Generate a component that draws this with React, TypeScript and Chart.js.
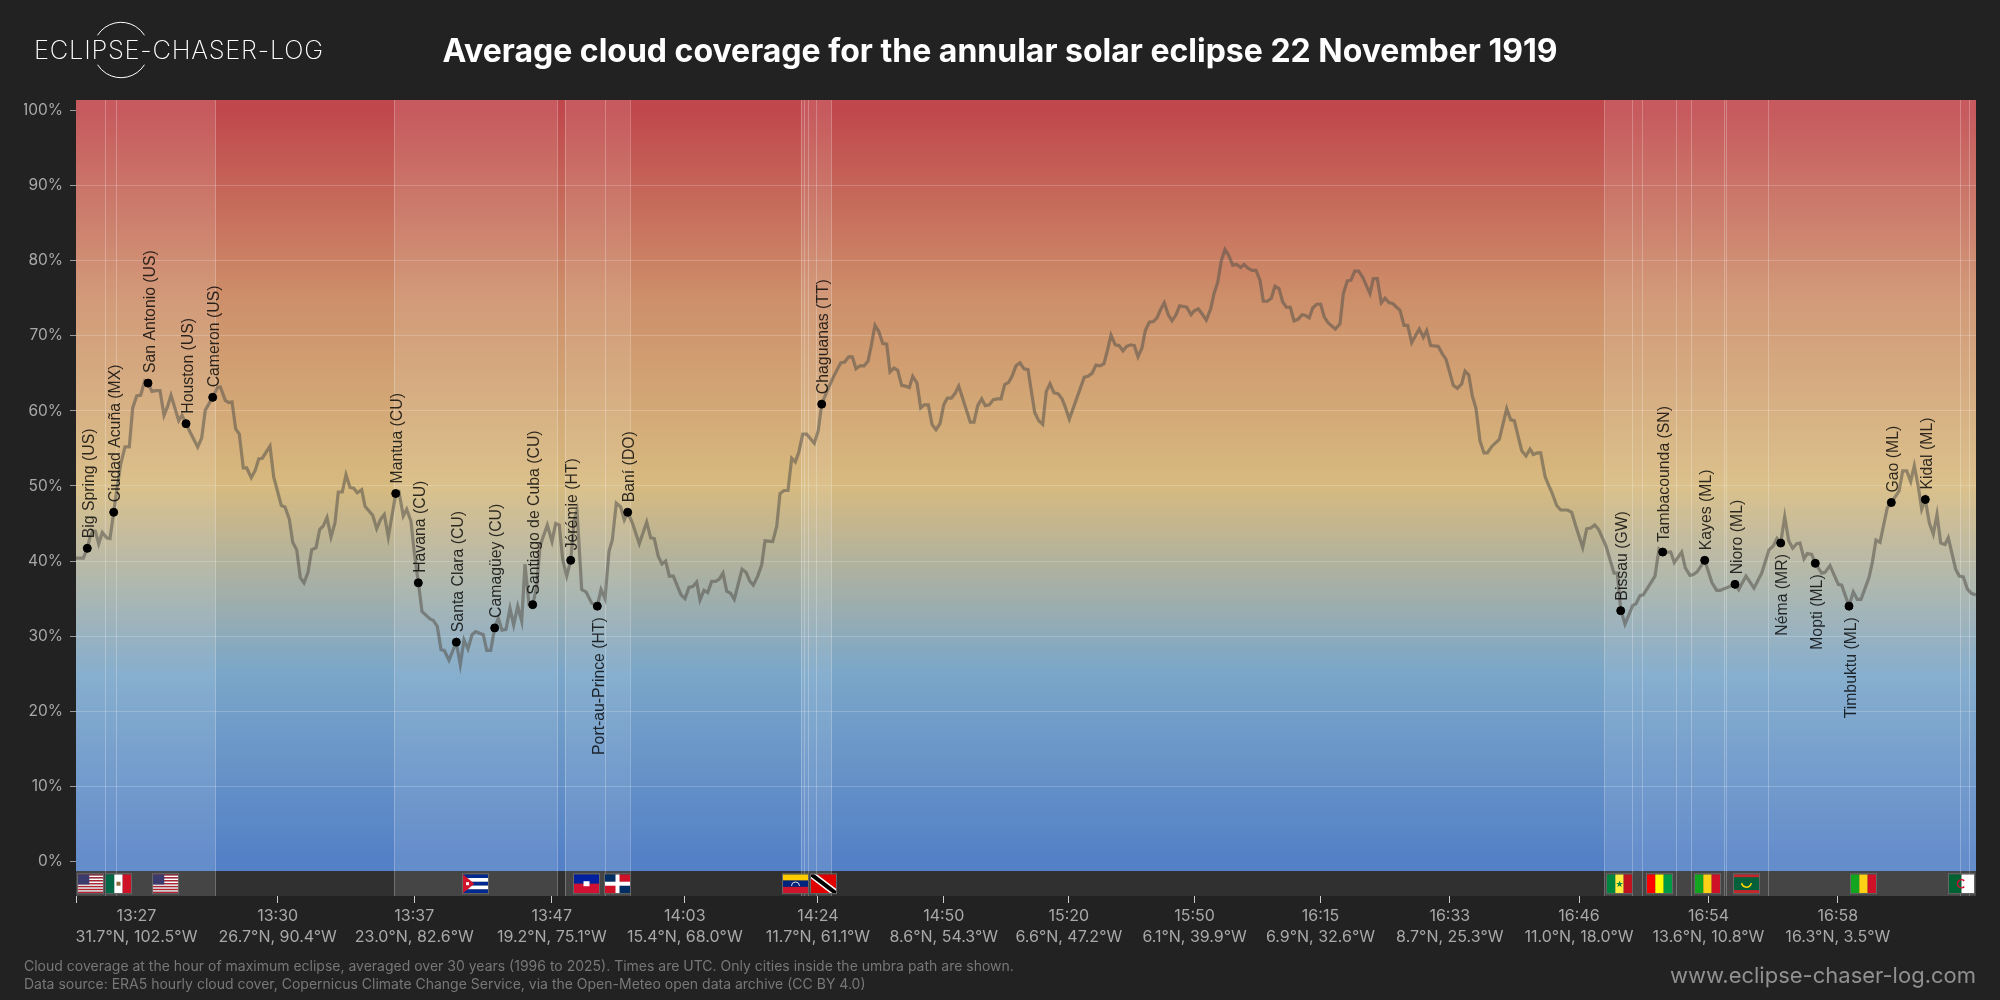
import React, { useEffect, useRef } from 'react';
import { Chart, registerables } from 'chart.js';

Chart.register(...registerables);

// position along the eclipse track (axis units) and cloud cover in %
const trackPos = [
  0, 7.3, 11.3, 14, 16.7, 19.3, 22.7, 26.3, 30.7, 34, 37.7, 40.7, 44.7, 49, 53.3, 56.7, 60.7, 64.7, 68.7, 72,
  76, 79.3, 84, 88, 91.3, 95, 102.7, 106, 110, 114, 121.7, 125.7, 129.3, 136.7, 141.3, 144.3, 149.3, 152.7, 156, 159.7,
  163.3, 167.3, 170.7, 175.3, 179.3, 182.7, 186.3, 194, 197.7, 205.3, 209, 213.3, 216.7, 220.7, 224.3, 228, 232, 235.7, 240, 243.7,
  247.3, 251, 255, 259, 262.3, 266.3, 270, 274, 277.7, 281.3, 285.7, 289, 296.7, 300.7, 304.7, 308.3, 312.3, 319.7,
  323, 327.3, 330.7, 335, 338.3, 342.3, 346, 354, 357.3, 361.3, 365, 368.3, 373, 380.3, 384.3, 388, 392, 396, 399.7, 407.3,
  410.7, 414.7, 418.7, 422.3, 426, 430, 434, 437.7, 441.7, 445.7, 449, 453, 456.7, 460.7, 464, 471.3, 476, 479.7, 483.3, 486.7,
  490.7, 494.7, 498.3, 501, 505.7, 510, 515.7, 521.3, 525, 529, 533, 536.3, 540.3, 544.7, 548.3, 551.7, 556.3, 563.3, 570.7, 574.7,
  578.3, 582.3, 586, 589.7, 593.3, 597.3, 605, 609, 613, 616.7, 620.7, 624, 628, 631.7, 635.7, 639.7, 643.3, 647, 650.7, 654.7,
  658.3, 666, 670, 674, 677.3, 681.7, 685.7, 689, 696.7, 700.7, 704, 708, 712, 715.7, 719.3, 723, 726.7, 730.7, 738.3, 742.3,
  745.7, 750, 757.3, 764.7, 768.7, 772.7, 776.3, 780, 784, 788, 792, 795, 799, 802.7, 806.7, 810.7, 814, 818, 821.7, 825.7,
  829.3, 833.3, 836.7, 841, 844.7, 848.3, 852.3, 856, 860, 864, 867.7, 871.3, 875.3, 879, 882.7, 894.3, 898, 901.7, 905.7, 909.3,
  913.3, 917.3, 921.3, 925, 928.7, 932.7, 936, 940, 944, 948, 952, 958.7, 962.7, 966.7, 970.3, 974, 978, 982, 986, 989.3,
  993.3, 1008.3, 1012, 1016, 1020, 1024, 1028, 1031.3, 1035, 1039.3, 1043, 1047, 1050.7, 1054.7, 1058.3, 1062, 1066, 1069.3, 1073.3, 1077.3,
  1081, 1085, 1088.3, 1092.3, 1096, 1100, 1103.7, 1110.7, 1115, 1118, 1122.3, 1126.7, 1130.3, 1134.7, 1138, 1141.7, 1145.3, 1149, 1152.7, 1156.7,
  1160.7, 1164.7, 1168, 1172, 1176, 1180, 1184, 1187.3, 1191.3, 1195.3, 1199, 1203, 1206.7, 1210.3, 1214.3, 1218, 1222, 1226, 1229.7, 1233.3,
  1236.7, 1240.7, 1244.7, 1248.3, 1252.3, 1259.3, 1264, 1267.3, 1271.3, 1275, 1278.7, 1282.7, 1286.7, 1294, 1297.3, 1301.3, 1305.3, 1309, 1313.3, 1316.7,
  1324, 1328, 1331.7, 1335.7, 1343.3, 1347.3, 1350.7, 1354.7, 1362.3, 1366.3, 1370, 1377.3, 1381.3, 1385.7, 1389, 1392.7, 1396.3, 1400, 1404, 1408,
  1411.3, 1416, 1423.3, 1430.7, 1434.7, 1438.3, 1445.7, 1450, 1454, 1457.3, 1461.3, 1464.7, 1469, 1472.3, 1476, 1480.7, 1484.7, 1491.7, 1495.7, 1499.7,
  1506.7, 1510.7, 1514.7, 1518.7, 1522.7, 1530, 1538, 1541.3, 1544.7, 1549, 1556.7, 1560, 1564, 1567.3, 1579, 1583, 1586.7, 1594.7, 1598.3, 1605.7,
  1609.3, 1614, 1617.3, 1621.3, 1628.7, 1636, 1640.7, 1644, 1659, 1662.7, 1670, 1678, 1685.7, 1693, 1697.3, 1701, 1704.7, 1708.7, 1712.7, 1716.7,
  1720.7, 1724, 1728, 1731.3, 1735.7, 1739.3, 1745.7, 1749, 1754, 1762.3, 1765.7, 1773, 1777.3, 1781.3, 1785, 1793, 1796.3, 1800, 1804, 1811.3,
  1815.3, 1823, 1826.7, 1830.7, 1834.7, 1838.3, 1842.3, 1845.7, 1849.3, 1853.3, 1857.3, 1861, 1864.7, 1869, 1872.3, 1879.7, 1883.3, 1887.3, 1891.3, 1895.3,
  1900,
];
const cloudCover = [
  40.4, 40.4, 41.7, 43.2, 44, 44, 42.3, 43.8, 43.1, 43, 46.5, 49.4, 52.9, 55.2, 55.2, 60.4, 62, 62.1, 64, 63.7,
  62.6, 62.7, 62.7, 59.4, 60.5, 62.1, 58.7, 59.4, 58.3, 57.2, 55.2, 56.4, 60.1, 61.8, 63.1, 63.2, 61.4, 61.1, 61.2, 57.6,
  56.9, 52.4, 52.4, 51.1, 52.1, 53.6, 53.7, 55.3, 51.2, 47.4, 47.2, 45.6, 42.5, 41.5, 37.8, 37.1, 38.5, 41.5, 41.8, 44.2,
  44.7, 45.8, 43.2, 45.1, 49.2, 49.2, 51.5, 49.8, 49.7, 49.1, 49.5, 47.3, 46.1, 44.3, 45.6, 46.2, 43.2, 48.9,
  49.2, 46, 46.9, 45.3, 41.1, 37.2, 33.3, 32.3, 32.1, 31.3, 28.2, 28.1, 26.8, 29.2, 26.2, 29.5, 28.3, 30.2, 30.6, 30.2,
  28.1, 28.1, 31.1, 32.4, 30.8, 30.9, 33.7, 31.5, 34, 32, 39.6, 34.2, 34.2, 36.6, 42, 44.8, 42.6, 45, 44.8, 40.2,
  38, 40.1, 45.5, 46.7, 36.2, 35.9, 34.4, 34, 36.2, 35, 41.3, 42.8, 47.7, 47.2, 45.5, 46.5, 45.1, 42.3, 45.2, 43.1,
  43, 40.6, 39.6, 40, 38, 38, 35.5, 35, 36.5, 36.6, 37.2, 34.8, 36.1, 35.8, 37.3, 37.3, 37.6, 38.4, 36, 35.7,
  34.9, 38.9, 38.5, 37.3, 36.8, 38, 39.5, 42.7, 42.6, 44.6, 49, 49.4, 49.4, 53.7, 53.2, 54.6, 56.9, 56.9, 55.7, 57.4,
  60.9, 62.3, 64.5, 66.4, 66.5, 67.2, 67.2, 65.6, 66, 66, 66.6, 68.5, 71.4, 70.6, 69, 68.9, 65.2, 65.7, 65.4, 63.4,
  63.3, 63.1, 64.6, 63.7, 60.4, 60.8, 60.8, 58.2, 57.5, 58.3, 60.8, 61.7, 61.7, 62.3, 63.3, 58.5, 58.5, 60.7, 61.6, 60.7,
  60.8, 61.5, 61.6, 61.6, 63.5, 63.8, 64.6, 66, 66.4, 65.6, 65.5, 59.8, 58.7, 58.2, 62.6, 63.6, 62.4, 62.3, 61.6, 60.5,
  58.9, 64.5, 64.6, 65, 66.1, 66, 66.3, 68, 70.1, 68.8, 68.7, 68, 68.6, 68.8, 68.7, 67.2, 68.4, 70.7, 71.8, 71.9,
  72.4, 73.6, 74.4, 72.8, 72, 72.8, 74, 73.8, 72.8, 73.3, 73.6, 72.8, 72.1, 73.6, 75.6, 77.1, 80, 81.5, 80.7, 79.4,
  79.5, 79.1, 79.5, 79, 78.7, 78.7, 77.4, 74.6, 74.6, 75, 76.6, 76.3, 74.5, 73.8, 73.8, 72, 72.2, 72.8, 72.7, 72.4,
  73.7, 74.2, 74.2, 72.5, 71.7, 70.9, 71.6, 75.6, 77.3, 77.4, 78.6, 78.6, 77.8, 75.6, 77.6, 77.6, 74.4, 75, 74.4, 74.3,
  73.4, 71.4, 71.4, 69.1, 70.9, 69.8, 70.7, 68.7, 68.6, 67.6, 66.9, 63.4, 63, 63.6, 65.3, 64.8, 62, 60.3, 56, 54.4,
  54.4, 55.3, 56.2, 60.3, 58.8, 58.7, 54.7, 54, 54.9, 54.2, 54.4, 54.4, 51.3, 50.2, 49.1, 47.4, 46.8, 46.8, 46.5, 44.7,
  41.8, 44.3, 44.4, 44.8, 44.2, 42, 38.4, 38.4, 33.6, 31.6, 34.1, 34.3, 35.4, 35.5, 38, 41.6, 41.2, 41.2, 39.8, 41.2,
  39.1, 38.1, 38.2, 38.6, 40.1, 37.1, 36.1, 36.1, 36.9, 36.2, 38, 36.4, 38.4, 41.5, 42, 43, 42.4, 45.9, 42.7, 41.7,
  42.3, 42.4, 40.3, 41, 40.9, 39.7, 38.4, 38.5, 39.4, 36.9, 36.8, 34, 35.9, 34.9, 34.9, 37.8, 39.8, 42.8, 42.5, 47.1,
  47.8, 49.3, 52, 52, 50.6, 52.7, 49.9, 46.9, 48.2, 45.1, 43.6, 46.2, 42.4, 42.2, 43.1, 38.9, 38, 37.9, 36.3, 35.7,
  35.5,
];

const cityNames = [
  'Big Spring (US)', 'Ciudad Acuña (MX)', 'San Antonio (US)', 'Houston (US)', 'Cameron (US)', 'Mantua (CU)',
  'Havana (CU)', 'Santa Clara (CU)', 'Camagüey (CU)', 'Santiago de Cuba (CU)', 'Jérémie (HT)', 'Port-au-Prince (HT)',
  'Baní (DO)', 'Chaguanas (TT)', 'Bissau (GW)', 'Tambacounda (SN)', 'Kayes (ML)', 'Nioro (ML)', 'Néma (MR)',
  'Mopti (ML)', 'Timbuktu (ML)', 'Gao (ML)', 'Kidal (ML)',
];
const cityPos = [11.3, 37.7, 72, 110, 136.7, 319.7, 342.3, 380.3, 418.7, 456.7, 494.7, 521.3, 551.7, 745.7, 1544.7, 1586.7, 1628.7, 1659, 1704.7, 1739.3, 1773, 1815.3, 1849.3];
const cityCover = [41.7, 46.5, 63.7, 58.3, 61.8, 49, 37.1, 29.2, 31.1, 34.2, 40.1, 34, 46.5, 60.9, 33.4, 41.2, 40.1, 36.9, 42.4, 39.7, 34, 47.8, 48.2];
const cityBelow = ['Port-au-Prince (HT)', 'Néma (MR)', 'Mopti (ML)', 'Timbuktu (ML)'];

const timeTickPos = [0, 60.5, 201.7, 338.3, 475.8, 608.8, 741.9, 867.8, 992.8, 1118.6, 1244.5, 1373.8, 1503, 1632.5, 1761.8];
const timeLabels = ['', '13:27', '13:30', '13:37', '13:47', '14:03', '14:24', '14:50', '15:20', '15:50', '16:15', '16:33', '16:46', '16:54', '16:58'];
const coordLabels = [
  '', '31.7°N, 102.5°W', '26.7°N, 90.4°W', '23.0°N, 82.6°W', '19.2°N, 75.1°W', '15.4°N, 68.0°W', '11.7°N, 61.1°W',
  '8.6°N, 54.3°W', '6.6°N, 47.2°W', '6.1°N, 39.9°W', '6.9°N, 32.6°W', '8.7°N, 25.3°W', '11.0°N, 18.0°W', '13.6°N, 10.8°W', '16.3°N, 3.5°W',
];
const coverTicks = [0, 10, 20, 30, 40, 50, 60, 70, 80, 90, 100];

// stretches of the track that have cities, with the borders between them
const bandStart = [0, 318.2, 489, 725, 740.5, 1528.4, 1692.5];
const bandEnd = [139.6, 481.6, 554, 740.5, 755.5, 1692.5, 1900];
const bandLines = [29.4, 40.5, 139.2, 318.2, 481.6, 489, 529, 554, 725, 728.5, 732, 740.5, 755.5, 1528.4, 1556.3, 1566.2, 1600.3, 1615.2, 1648.5, 1650.4, 1692.5, 1884.3, 1893.5];

const flagCodes = ['us', 'mx', 'us', 'cu', 'ht', 'do', 've', 'tt', 'sn', 'gn', 'ml', 'mr', 'ml', 'dz'];
const flagPos = [14.4, 42, 89.4, 399.2, 509.5, 541, 719.3, 747.3, 1542.5, 1583.3, 1631.2, 1670.3, 1787.3, 1885.3];

const colourStops: [number, string][] = [
  [100, '#c0484c'],
  [75, '#cd8f6a'],
  [50, '#d7ba7f'],
  [25, '#7aa6c9'],
  [0, '#5380c6'],
];

const FONT = 'Inter, "Noto Sans", sans-serif';

function drawFlag(ctx: CanvasRenderingContext2D, code: string, x: number, y: number, w: number, h: number) {
  const vert = (cols: string[]) => cols.forEach((c, i) => {
    ctx.fillStyle = c;
    ctx.fillRect(x + (w * i) / cols.length, y, w / cols.length, h);
  });
  const horiz = (rows: string[]) => rows.forEach((c, i) => {
    ctx.fillStyle = c;
    ctx.fillRect(x, y + (h * i) / rows.length, w, h / rows.length);
  });
  ctx.save();
  ctx.beginPath();
  ctx.rect(x, y, w, h);
  ctx.clip();
  if (code === 'us') {
    horiz(['#b22234', '#fff', '#b22234', '#fff', '#b22234', '#fff', '#b22234', '#fff', '#b22234', '#fff', '#b22234', '#fff', '#b22234']);
    ctx.fillStyle = '#3c3b6e';
    ctx.fillRect(x, y, w * 0.45, h * 0.54);
  } else if (code === 'mx') {
    vert(['#006847', '#fff', '#ce1126']);
    ctx.fillStyle = '#8c6a3a';
    ctx.fillRect(x + w / 2 - 2, y + h / 2 - 2, 4, 4);
  } else if (code === 'cu') {
    horiz(['#002a8f', '#fff', '#002a8f', '#fff', '#002a8f']);
    ctx.fillStyle = '#cf142b';
    ctx.beginPath();
    ctx.moveTo(x, y);
    ctx.lineTo(x + w * 0.45, y + h / 2);
    ctx.lineTo(x, y + h);
    ctx.fill();
    ctx.fillStyle = '#fff';
    ctx.fillRect(x + 3, y + h / 2 - 1.5, 3, 3);
  } else if (code === 'ht') {
    horiz(['#00209f', '#d21034']);
    ctx.fillStyle = '#fff';
    ctx.fillRect(x + w / 2 - 3, y + h / 2 - 2.5, 6, 5);
  } else if (code === 'do') {
    ctx.fillStyle = '#002d62';
    ctx.fillRect(x, y, w, h);
    ctx.fillStyle = '#ce1126';
    ctx.fillRect(x + w / 2, y, w / 2, h / 2);
    ctx.fillRect(x, y + h / 2, w / 2, h / 2);
    ctx.fillStyle = '#fff';
    ctx.fillRect(x + w / 2 - 2, y, 4, h);
    ctx.fillRect(x, y + h / 2 - 2, w, 4);
  } else if (code === 've') {
    horiz(['#ffcc00', '#00247d', '#cf142b']);
    ctx.strokeStyle = '#ddd';
    ctx.beginPath();
    ctx.arc(x + w / 2, y + h * 0.62, 4, Math.PI, 0);
    ctx.stroke();
  } else if (code === 'tt') {
    ctx.fillStyle = '#e00000';
    ctx.fillRect(x, y, w, h);
    ctx.beginPath();
    ctx.moveTo(x, y);
    ctx.lineTo(x + w, y + h);
    ctx.lineWidth = 7;
    ctx.strokeStyle = '#fff';
    ctx.stroke();
    ctx.lineWidth = 4;
    ctx.strokeStyle = '#000';
    ctx.stroke();
  } else if (code === 'sn') {
    vert(['#00853f', '#fdef42', '#c1121f']);
    ctx.fillStyle = '#00853f';
    ctx.font = '9px "DejaVu Sans"';
    ctx.textAlign = 'center';
    ctx.textBaseline = 'middle';
    ctx.fillText('★', x + w / 2, y + h / 2 + 1);
  } else if (code === 'gn') {
    vert(['#ff0000', '#ffff00', '#009a44']);
  } else if (code === 'ml') {
    vert(['#14a520', '#fcd116', '#ce1126']);
  } else if (code === 'mr') {
    horiz(['#c1272d', '#00623b', '#00623b', '#00623b', '#00623b', '#c1272d']);
    ctx.strokeStyle = '#ffd700';
    ctx.lineWidth = 1.5;
    ctx.beginPath();
    ctx.arc(x + w / 2, y + h * 0.42, 5, 0.2, Math.PI - 0.2);
    ctx.stroke();
  } else if (code === 'dz') {
    vert(['#006233', '#ffffff']);
    ctx.strokeStyle = '#d21034';
    ctx.lineWidth = 1.5;
    ctx.beginPath();
    ctx.arc(x + w / 2, y + h / 2, 4, 0.8, Math.PI * 2 - 0.8);
    ctx.stroke();
  }
  ctx.restore();
  ctx.strokeStyle = '#666';
  ctx.lineWidth = 1;
  ctx.strokeRect(x - 0.5, y - 0.5, w + 1, h + 1);
}

const paperPlugin = {
  id: 'paper',
  beforeDraw(chart: any) {
    const { ctx, chartArea: area, scales } = chart;
    const { x: xs, y: ys } = scales;
    const stripTop = ys.getPixelForValue(-1.3);

    ctx.save();
    ctx.fillStyle = '#222222';
    ctx.fillRect(0, 0, chart.width, chart.height);

    const grad = ctx.createLinearGradient(0, ys.getPixelForValue(100), 0, ys.getPixelForValue(0));
    colourStops.forEach(([v, c]) => grad.addColorStop((100 - v) / 100, c));
    ctx.fillStyle = grad;
    ctx.fillRect(area.left, area.top, area.width, stripTop - area.top);
    ctx.fillStyle = '#303030';
    ctx.fillRect(area.left, stripTop, area.width, area.bottom - stripTop);

    ctx.fillStyle = 'rgba(255,255,255,0.1)';
    bandStart.forEach((start, i) => {
      const a = xs.getPixelForValue(start);
      ctx.fillRect(a, area.top, xs.getPixelForValue(bandEnd[i]) - a, area.height);
    });

    ctx.strokeStyle = 'rgba(255,255,255,0.25)';
    ctx.lineWidth = 1;
    bandLines.forEach((v) => {
      const px = Math.floor(xs.getPixelForValue(v)) + 0.5;
      ctx.beginPath();
      ctx.moveTo(px, area.top);
      ctx.lineTo(px, area.bottom);
      ctx.stroke();
    });

    flagCodes.forEach((code, i) => {
      drawFlag(ctx, code, Math.round(xs.getPixelForValue(flagPos[i])) - 12, stripTop + 3, 25, 19);
    });

    // logo
    ctx.strokeStyle = '#ffffff';
    ctx.lineWidth = 1;
    ctx.beginPath();
    ctx.arc(121, 50, 27.7, Math.PI + 0.56, -0.56);
    ctx.stroke();
    ctx.beginPath();
    ctx.arc(121, 50, 27.7, 0.56, Math.PI - 0.56);
    ctx.stroke();
    ctx.fillStyle = '#ffffff';
    ctx.textBaseline = 'alphabetic';
    ctx.textAlign = 'left';
    ctx.font = '200 25.5px ' + FONT;
    (ctx as any).letterSpacing = '0.75px';
    ctx.fillText('ECLIPSE-CHASER-LOG', 34, 59);
    (ctx as any).letterSpacing = '0px';

    // footer
    ctx.fillStyle = '#777777';
    ctx.font = '14px ' + FONT;
    ctx.textBaseline = 'middle';
    ctx.fillText('Cloud coverage at the hour of maximum eclipse, averaged over 30 years (1996 to 2025). Times are UTC. Only cities inside the umbra path are shown.', 24, 967);
    ctx.fillText('Data source: ERA5 hourly cloud cover, Copernicus Climate Change Service, via the Open-Meteo open data archive (CC BY 4.0)', 24, 985);
    ctx.fillStyle = '#909090';
    ctx.font = '22px ' + FONT;
    ctx.textAlign = 'right';
    ctx.fillText('www.eclipse-chaser-log.com', 1976, 976);
    ctx.restore();
  },
  afterDatasetsDraw(chart: any) {
    const { ctx, scales } = chart;
    ctx.save();
    ctx.fillStyle = 'rgba(0,0,0,0.8)';
    ctx.font = '15.8px "Liberation Sans", Arial, sans-serif';
    ctx.textBaseline = 'middle';
    cityNames.forEach((name, i) => {
      const below = cityBelow.includes(name);
      ctx.save();
      ctx.translate(scales.x.getPixelForValue(cityPos[i]) + 2.2, scales.y.getPixelForValue(cityCover[i]) + (below ? 11 : -10));
      ctx.rotate(-Math.PI / 2);
      ctx.textAlign = below ? 'right' : 'left';
      ctx.fillText(name, 0, 0);
      ctx.restore();
    });
    ctx.restore();
  },
};

const CloudChart: React.FC = () => {
  const canvasRef = useRef<HTMLCanvasElement>(null);

  useEffect(() => {
    document.body.style.margin = '0';
    document.body.style.background = '#222222';
    const canvas = canvasRef.current;
    if (!canvas) return;

    const chart = new Chart(canvas, {
      type: 'line',
      data: {
        datasets: [
          {
            type: 'scatter',
            data: cityPos.map((x, i) => ({ x, y: cityCover[i] })),
            backgroundColor: '#000000',
            borderColor: '#000000',
            pointRadius: 4,
            showLine: false,
          },
          {
            data: trackPos.map((x, i) => ({ x, y: cloudCover[i] })),
            borderColor: 'rgba(85,82,75,0.55)',
            borderWidth: 3.2,
            pointRadius: 0,
            tension: 0,
          },
        ],
      },
      plugins: [paperPlugin],
      options: {
        responsive: false,
        animation: false,
        devicePixelRatio: 1,
        layout: { padding: { left: 24, right: 24 }, autoPadding: false },
        plugins: {
          legend: { display: false },
          tooltip: { enabled: false },
          title: {
            display: true,
            text: 'Average cloud coverage for the annular solar eclipse 22 November 1919',
            color: '#ffffff',
            font: { family: FONT, size: 32, weight: 'bold', lineHeight: 1.2 },
            padding: { top: 33.5, bottom: 28.1 },
          },
        },
        scales: {
          x: {
            type: 'linear',
            min: 0,
            max: 1900,
            afterBuildTicks: (scale: any) => {
              scale.ticks = timeTickPos.map((value) => ({ value }));
            },
            afterFit: (scale: any) => {
              scale.height = 104;
            },
            grid: {
              drawOnChartArea: false,
              tickLength: 7,
              tickColor: (ctx: any) => (ctx.index === 1 ? 'transparent' : '#cccccc'),
            },
            border: { display: false },
            ticks: {
              autoSkip: false,
              maxRotation: 0,
              color: '#a8a8a8',
              padding: 2,
              font: { family: FONT, size: 16, lineHeight: 1.35 },
              callback: (_v: any, i: number) => (timeLabels[i] ? [timeLabels[i], coordLabels[i]] : ''),
            },
          },
          y: {
            type: 'linear',
            min: -4.6,
            max: 101.4,
            afterBuildTicks: (scale: any) => {
              scale.ticks = coverTicks.map((value) => ({ value }));
            },
            afterFit: (scale: any) => {
              scale.width = 52;
            },
            grid: {
              color: (ctx: any) => (ctx.tick && (ctx.tick.value === 0 || ctx.tick.value === 100) ? 'transparent' : 'rgba(255,255,255,0.2)'),
              tickColor: '#999999',
              tickLength: 6,
            },
            border: { display: false },
            ticks: {
              color: '#a8a8a8',
              padding: 7,
              font: { family: FONT, size: 15.5 },
              callback: (v: any) => v + '%',
            },
          },
        },
      },
    } as any);

    return () => chart.destroy();
  }, []);

  return <canvas ref={canvasRef} width={2000} height={1000} style={{ display: 'block', width: '2000px', height: '1000px' }} />;
};

export default function App() {
  return <CloudChart />;
}
